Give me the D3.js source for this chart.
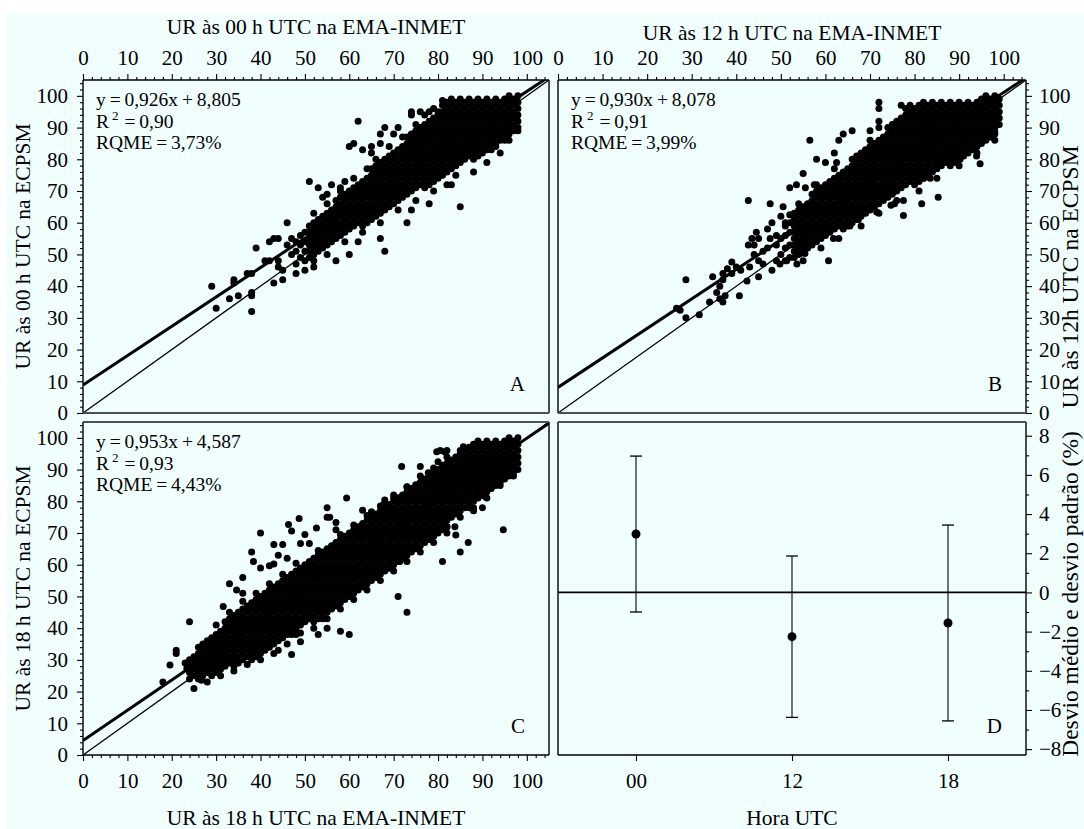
<!DOCTYPE html>
<html>
<head>
<meta charset="utf-8">
<script src="https://cdn.jsdelivr.net/npm/d3@7"></script>
<style>
  html, body { margin: 0; padding: 0; background: #ffffff; }
  svg { display: block; }
</style>
</head>
<body>
<svg id="chart" width="1084" height="829"></svg>
<script>
// ---------------------------------------------------------------
// Data
// ---------------------------------------------------------------
const valueTicks = [0, 10, 20, 30, 40, 50, 60, 70, 80, 90, 100];
const hourLabels = ["00", "12", "18"];
const deviationTicks = [-8, -6, -4, -2, 0, 2, 4, 6, 8];

// mean deviation (%) and its standard deviation for each hour
const meanDeviation = [2.98, -2.26, -1.56];
const sdDeviation = [3.98, 4.12, 5.0];

// linear fits (ECPSM = slope * EMA + intercept)
const fitSlope = [0.926, 0.930, 0.953];
const fitIntercept = [8.805, 8.078, 4.587];
const fitText = ["y = 0,926x + 8,805", "y = 0,930x + 8,078", "y = 0,953x + 4,587"];
const r2Text = ["0,90", "0,91", "0,93"];
const rqmeText = ["3,73%", "3,99%", "4,43%"];

// 00 h UTC: columns of observations [EMA, [ECPSM values]]
const denseA = [
  [48,[47,51,54]],[49,[49,53,56]],[50,[48,51,54,57]],
  [51,[49,51,53,55,57,59]],[52,[50,52,54,56,58,60]],[53,[51,53,55,57,59,61]],
  [54,[52,54,56,58,60,62]],[55,[53,55,57,59,61,63]],[56,[54,56,58,60,62,64]],
  [57,[55,57,59,61,63,65,67]],[58,[56,58,60,62,64,66,68]],[59,[57,59,61,63,65,67,69]],
  [60,[58,60,62,64,66,68,70]],[61,[59,61,63,65,67,69,71]],[62,[60,62,64,66,68,70,72]],
  [63,[59,61,63,65,67,69,71,73]],[64,[60,62,64,66,68,70,72,74]],
  [65,[61,63,65,67,69,71,73,75,77]],[66,[62,64,66,68,70,72,74,76,78]],
  [67,[63,65,67,69,71,73,75,77,79]],[68,[64,66,68,70,72,74,76,78,80]],
  [69,[65,67,69,71,73,75,77,79,81]],[70,[66,68,70,72,74,76,78,80,82]],
  [71,[67,69,71,73,75,77,79,81,83]],[72,[68,70,72,74,76,78,80,82,84]],
  [73,[69,71,73,75,77,79,81,83,85,87]],[74,[70,72,74,76,78,80,82,84,86,88]],
  [75,[71,73,75,77,79,81,83,85,87,89]],[76,[72,74,76,78,80,82,84,86,88,90]],
  [77,[71,73,75,77,79,81,83,85,87,89,91]],[78,[72,74,76,78,80,82,84,86,88,90,92]],
  [79,[73,75,77,79,81,83,85,87,89,91,93]],[80,[74,76,78,80,82,84,86,88,90,92,94]],
  [81,[75,77,79,81,83,85,87,89,91,93,95,97]],[82,[76,78,80,82,84,86,88,90,92,94,96,98]],
  [83,[77,79,81,83,85,87,89,91,93,95,97,99]],[84,[78,80,82,84,86,88,90,92,94,96,98]],
  [85,[79,81,83,85,87,89,91,93,95,97,99]],[86,[80,82,84,86,88,90,92,94,96,98]],
  [87,[81,83,85,87,89,91,93,95,97,99]],[88,[82,84,86,88,90,92,94,96,98]],
  [89,[81,83,85,87,89,91,93,95,97,99]],[90,[82,84,86,88,90,92,94,96,98]],
  [91,[83,85,87,89,91,93,95,97,99]],[92,[84,86,88,90,92,94,96,98]],
  [93,[85,87,89,91,93,95,97,99]],[94,[86,88,90,92,94,96,98]],
  [95,[87,89,91,93,95,97,99]],[96,[88,90,92,94,96,98,100]],
  [97,[89,91,93,95,97,99]],[98,[90,92,94,96,98,100]]
];
const sparseA = [
  [62,92],[60,84],[61,85],[63,83],[65,84],[65,82],[67,88],[67,85],[68,90],[71,90],[74,94],
  [74,95],[76,95],[78,95],[80,95],[82,97],[51,73],[53,71],[54,68],[55,69],[56,72],[58,70],
  [59,73],[46,60],[39,52],[42,54],[43,55],[44,55],[41,48],[42,48],[44,48],[45,45],[45,42],
  [43,41],[37,44],[38,44],[34,42],[34,41],[35,37],[33,36],[38,38],[38,37],[38,32],[29,40],
  [30,33],[52,48],[57,48],[60,50],[62,54],[67,55],[68,51],[73,60],[74,64],
  [78,66],[82,72],[83,72],[85,65],[88,76],[91,79],[94,82],[93,84],[98,89],[95,86],[47,50],
  [48,44],[50,45],[44,46],[47,55],[46,53],
  [52,63],[55,66],[58,71],[61,74],[64,77],[66,80],[69,84],[72,87],[75,91],[77,94],[79,96],
  [81,98.5],[70,88],[52,46],[55,50],[59,54],[63,57],[67,60],[71,64],[75,67],[79,70],
  [84,75],[88,80],[92,83],[96,86]
];

// 12 h UTC
const denseB = [
  [49,[48,53]],[50,[50,55]],[51,[48,52,56,59]],
  [52,[49,53,57,60]],[53,[49,51,53,55,57,59,61,63]],[54,[50,52,54,56,58,60,62,64]],
  [55,[51,53,55,57,59,61,63,65]],[56,[52,54,56,58,60,62,64,66]],
  [57,[53,55,57,59,61,63,65,67,69]],[58,[54,56,58,60,62,64,66,68,70]],
  [59,[55,57,59,61,63,65,67,69,71]],[60,[56,58,60,62,64,66,68,70,72]],
  [61,[57,59,61,63,65,67,69,71,73]],[62,[58,60,62,64,66,68,70,72,74]],
  [63,[59,61,63,65,67,69,71,73,75]],[64,[58,60,62,64,66,68,70,72,74,76]],
  [65,[59,61,63,65,67,69,71,73,75,77]],[66,[60,62,64,66,68,70,72,74,76,78]],
  [67,[61,63,65,67,69,71,73,75,77,79,81]],[68,[62,64,66,68,70,72,74,76,78,80,82]],
  [69,[63,65,67,69,71,73,75,77,79,81,83]],[70,[64,66,68,70,72,74,76,78,80,82,84]],
  [71,[65,67,69,71,73,75,77,79,81,83,85]],[72,[66,68,70,72,74,76,78,80,82,84,86]],
  [73,[67,69,71,73,75,77,79,81,83,85,87]],[74,[68,70,72,74,76,78,80,82,84,86,88]],
  [75,[69,71,73,75,77,79,81,83,85,87,89,91]],[76,[70,72,74,76,78,80,82,84,86,88,90,92]],
  [77,[71,73,75,77,79,81,83,85,87,89,91,93]],[78,[72,74,76,78,80,82,84,86,88,90,92,94]],
  [79,[73,75,77,79,81,83,85,87,89,91,93,95]],[80,[72,74,76,78,80,82,84,86,88,90,92,94,96]],
  [81,[73,75,77,79,81,83,85,87,89,91,93,95,97]],[82,[74,76,78,80,82,84,86,88,90,92,94,96,98]],
  [83,[75,77,79,81,83,85,87,89,91,93,95,97]],[84,[76,78,80,82,84,86,88,90,92,94,96,98]],
  [85,[77,79,81,83,85,87,89,91,93,95,97]],[86,[78,80,82,84,86,88,90,92,94,96,98]],
  [87,[79,81,83,85,87,89,91,93,95,97]],[88,[78,80,82,84,86,88,90,92,94,96,98]],
  [89,[79,81,83,85,87,89,91,93,95,97]],[90,[80,82,84,86,88,90,92,94,96,98]],
  [91,[81,83,85,87,89,91,93,95,97]],[92,[82,84,86,88,90,92,94,96,98]],
  [93,[83,85,87,89,91,93,95,97]],[94,[84,86,88,90,92,94,96,98]],
  [95,[85,87,89,91,93,95,97,99]],[96,[86,88,90,92,94,96,98,100]],
  [97,[87,89,91,93,95,97,99]],[98,[88,90,92,94,96,98,100]],[99,[91,93,95,97,99]]
];
const sparseB = [
  [72,98],[72,96],[72,92],[72,90],[77,97],[79,97],[66,89],[70,89],[64,88],[63,86],[62,82],
  [56.5,86],[58,80],[60,79],[62.5,79],[55,75.5],[52,71],[53.5,72],[55.5,71],[57.5,72],
  [42.7,67],[47.6,66],[50.5,65],[50,62],[51,60],[44.5,57],[43.5,55],[42.7,53],[47.6,55],
  [49,56],[47,52],[40,46],[39,44],[41,45],[43,46],[45,43],[42.4,41.6],[37,44],[37,42],
  [34.7,43],[38,45.5],[39,47.6],[36.3,40],[35.6,38],[37.5,37],[34,35],[37,35],[36.3,36],
  [40.7,37],[28.7,42],[26.6,33],[27.4,32.4],[28.7,30],[31.7,31],[55.8,54.5],[54.3,50.3],
  [55.4,50.3],[53.6,47],[49.8,47],[51.3,48],[60.7,48],[61.8,55],[65.5,59],[67.4,61],
  [71.5,63.4],[74.7,65.5],[75.5,66],[77.5,67],[81.6,66],[77.5,62.3],[85.3,68],[82,74],
  [83.5,74],[85,79],[85.7,79],[88,79],[90.2,80],[93.9,81],[94.7,78.6],[92.1,88],[94.3,88],
  [93.6,83],[98,88.6],
  [44,50],[45,48],[46,51],[46,47],[48,45],[44,53],[45,55],[47,58],[48,60],
  [52,62.5],[54,66],[58,72],[62,77],[66,80],[70,86],[74,90],[78,96],
  [55,48],[59,52],[63,55],[68,59],[72,63],[76,67],[81,70],[85,74],[90,78],[94,82],[98,86]
];

// 18 h UTC
const denseC = [
  [24,[24,26,28,30]],[25,[25,27,29,31]],[26,[24,26,28,30,32,34]],[27,[25,27,29,31,33,35]],
  [28,[26,28,30,32,34,36]],[29,[25,27,29,31,33,35,37]],[30,[26,28,30,32,34,36,38]],
  [31,[27,29,31,33,35,37,39]],[32,[28,30,32,34,36,38,40,42]],[33,[29,31,33,35,37,39,41,43]],
  [34,[28,30,32,34,36,38,40,42,44]],[35,[29,31,33,35,37,39,41,43,45]],
  [36,[30,32,34,36,38,40,42,44,46]],[37,[31,33,35,37,39,41,43,45,47]],
  [38,[30,32,34,36,38,40,42,44,46,48]],[39,[31,33,35,37,39,41,43,45,47,49]],
  [40,[32,34,36,38,40,42,44,46,48,50]],[41,[33,35,37,39,41,43,45,47,49,51]],
  [42,[34,36,38,40,42,44,46,48,50,52]],[43,[35,37,39,41,43,45,47,49,51,53]],
  [44,[36,38,40,42,44,46,48,50,52,54]],[45,[37,39,41,43,45,47,49,51,53,55]],
  [46,[38,40,42,44,46,48,50,52,54,56]],[47,[39,41,43,45,47,49,51,53,55,57]],
  [48,[40,42,44,46,48,50,52,54,56,58]],[49,[41,43,45,47,49,51,53,55,57,59]],
  [50,[42,44,46,48,50,52,54,56,58,60]],[51,[43,45,47,49,51,53,55,57,59,61]],
  [52,[42,44,46,48,50,52,54,56,58,60,62]],[53,[43,45,47,49,51,53,55,57,59,61,63]],
  [54,[44,46,48,50,52,54,56,58,60,62,64]],[55,[45,47,49,51,53,55,57,59,61,63,65]],
  [56,[46,48,50,52,54,56,58,60,62,64,66]],[57,[47,49,51,53,55,57,59,61,63,65,67]],
  [58,[48,50,52,54,56,58,60,62,64,66,68]],[59,[49,51,53,55,57,59,61,63,65,67,69]],
  [60,[50,52,54,56,58,60,62,64,66,68,70]],[61,[51,53,55,57,59,61,63,65,67,69,71]],
  [62,[52,54,56,58,60,62,64,66,68,70,72]],[63,[53,55,57,59,61,63,65,67,69,71,73]],
  [64,[54,56,58,60,62,64,66,68,70,72,74]],[65,[55,57,59,61,63,65,67,69,71,73,75]],
  [66,[56,58,60,62,64,66,68,70,72,74,76]],[67,[57,59,61,63,65,67,69,71,73,75,77]],
  [68,[58,60,62,64,66,68,70,72,74,76,78]],[69,[59,61,63,65,67,69,71,73,75,77,79]],
  [70,[60,62,64,66,68,70,72,74,76,78,80]],[71,[61,63,65,67,69,71,73,75,77,79,81]],
  [72,[62,64,66,68,70,72,74,76,78,80,82]],[73,[63,65,67,69,71,73,75,77,79,81,83]],
  [74,[64,66,68,70,72,74,76,78,80,82,84]],[75,[65,67,69,71,73,75,77,79,81,83,85]],
  [76,[66,68,70,72,74,76,78,80,82,84,86]],[77,[67,69,71,73,75,77,79,81,83,85,87]],
  [78,[68,70,72,74,76,78,80,82,84,86,88]],[79,[69,71,73,75,77,79,81,83,85,87,89]],
  [80,[70,72,74,76,78,80,82,84,86,88,90]],[81,[71,73,75,77,79,81,83,85,87,89,91]],
  [82,[72,74,76,78,80,82,84,86,88,90,92]],[83,[75,77,79,81,83,85,87,89,91,93]],
  [84,[76,78,80,82,84,86,88,90,92,94]],[85,[77,79,81,83,85,87,89,91,93,95]],
  [86,[78,80,82,84,86,88,90,92,94,96]],[87,[79,81,83,85,87,89,91,93,95,97]],
  [88,[80,82,84,86,88,90,92,94,96,98]],[89,[81,83,85,87,89,91,93,95,97,99]],
  [90,[82,84,86,88,90,92,94,96,98]],[91,[83,85,87,89,91,93,95,97,99]],
  [92,[84,86,88,90,92,94,96,98]],[93,[85,87,89,91,93,95,97,99]],
  [94,[86,88,90,92,94,96,98]],[95,[87,89,91,93,95,97,99]],
  [96,[88,90,92,94,96,98,100]],[97,[89,91,93,95,97,99]],[98,[90,92,94,96,98,100]]
];
const sparseC = [
  [24,42],[18,23],[19.6,28.4],[21,33],[21,32],[23,29],[23.4,27.3],[25,21],[26.7,23.6],
  [31.6,46.8],[33,54],[34.6,52],[36,51],[36,56],[38,64],[40,70],[38.4,61],[40,59],[43,66.4],
  [45,66.4],[46.3,72.7],[47,70.6],[48.7,74.6],[50,69.5],[49,66.7],[51,66.7],[44,63],[46,62],
  [42,59.7],[43,60.2],[52.6,71.6],[53,63],[55,78],[55,75],[55.6,75],[57,73.3],[57,71],
  [59.4,81],[59.4,68.8],[63,77.2],[65,76.7],[65.4,75.7],[67.7,79],[68,80.4],[70,81],[71,81],
  [72,81],[71.8,91],[76,91],[77.8,89],[73,84.6],[75,85.2],[79.7,95.6],[80.5,96],[81.5,95.6],
  [82,96],[80,92.5],[81,91.4],[85.7,97.2],[78,68],[82,72],[83.8,72],[84,69.4],[85,64],
  [86.8,67],[81,61],[86,81],[87,78],[88,77],[90.6,81.5],[94.7,71],[95.4,90.4],[96.2,93.6],
  [71,50],[73,45],[54,45],[54,43],[55,40],[51,43],[53,38],[58,39],[60,38],[47,38],[48,38],
  [49,35.7],[44,33],[47,31.7],[38,31],[38.8,32.6],[31,28.3],[32.4,29.4],[31.6,31.5],
  [69,59],[71.4,61],[70.3,62.5],[66,57],[64,57],[89,84],[90,78],[90,82],
  [30,41],[33,45],[36,48.5],[39,51],[42,54],[45,57],[48,60.5],[53,64.5],[58,69.5],
  [61,72.5],[64,75.5],[67,78.5],[70,82],[73,84.5],[76,88],[79,90.5],[82,94],[85,96],
  [28,23],[31,25],[34,26.5],[37,28.5],[40,30],[43,32],[46,35],[49,38.5],[52,40],[55,43],
  [58,46],[61,49],[64,52],[67,55],[70,58],[73,61],[76,64],[79,67],[82,70],[85,75],[88,78],
  [91,81],[94,85],[97,88]
];

// ---------------------------------------------------------------
// Layout
// ---------------------------------------------------------------
const FONT = '"Liberation Serif", "Times New Roman", Times, serif';
const FS = 21;           // tick labels
const FS_TITLE = 21.5;   // axis titles
const FS_SIDE = 23.5;    // right-hand axis titles
const FS_STAT = 19.5;    // statistics block
const DOT_R = 3.5;
const col = [{x0: 83, x1: 549}, {x0: 558, x1: 1026}];
const row = [{y0: 80, y1: 413}, {y0: 422, y1: 755}];
const valueDomain = [0, 105];
const minorValueTicks = d3.range(2, 105, 2).filter(v => v % 10 !== 0);

const svg = d3.select("#chart");
svg.append("rect")
  .attr("x", 7).attr("y", 14).attr("width", 1077).attr("height", 815)
  .attr("fill", "#f0fefe");

function drawAxis(gen, scale, majors, minors, fmt, pad, tx, ty) {
  const gm = svg.append("g").attr("transform", `translate(${tx},${ty})`)
    .call(gen(scale).tickValues(minors).tickSize(3).tickFormat(""));
  const gM = svg.append("g").attr("transform", `translate(${tx},${ty})`)
    .call(gen(scale).tickValues(majors).tickSize(6).tickPadding(pad).tickFormat(fmt));
  [gm, gM].forEach(g => {
    g.select(".domain").remove();
    g.attr("font-family", FONT).attr("font-size", FS);
    g.selectAll("line").attr("stroke", "#000").attr("stroke-width", 1.1);
    g.selectAll("text").attr("fill", "#000");
  });
  return gM;
}

function frame(box, grey) {
  // side edges black; the edge shared with the neighbouring row drawn heavier grey
  const g = svg.append("g").attr("fill", "none");
  const edges = [
    {x1: box.x0, y1: box.y0, x2: box.x0, y2: box.y1, s: "#000", w: 1.4},
    {x1: box.x1, y1: box.y0, x2: box.x1, y2: box.y1, s: "#000", w: 1.4},
    {x1: box.x0, y1: box.y0, x2: box.x1, y2: box.y0, s: grey === "top" ? "#505050" : "#000", w: grey === "top" ? 2.2 : 1.4},
    {x1: box.x0, y1: box.y1, x2: box.x1, y2: box.y1, s: grey === "bottom" ? "#505050" : "#000", w: grey === "bottom" ? 2.2 : 1.4}
  ];
  g.selectAll("line").data(edges).join("line")
    .attr("x1", d => d.x1).attr("y1", d => d.y1).attr("x2", d => d.x2).attr("y2", d => d.y2)
    .attr("stroke", d => d.s).attr("stroke-width", d => d.w);
}

function text(x, y, str, opts = {}) {
  const t = svg.append("text")
    .attr("x", x).attr("y", y)
    .attr("font-family", FONT).attr("font-size", opts.size || FS)
    .attr("text-anchor", opts.anchor || "start")
    .attr("fill", "#000")
    .text(str);
  if (opts.wordSpacing !== undefined) t.attr("word-spacing", opts.wordSpacing);
  if (opts.rotate) t.attr("transform", `rotate(${opts.rotate},${x},${y})`);
  return t;
}

function scatterPanel(i, box, dense, sparse, letter, grey) {
  const x = d3.scaleLinear().domain(valueDomain).range([box.x0, box.x1]);
  const y = d3.scaleLinear().domain(valueDomain).range([box.y1, box.y0]);
  const clipId = "clip" + letter;
  svg.append("clipPath").attr("id", clipId).append("rect")
    .attr("x", box.x0).attr("y", box.y0)
    .attr("width", box.x1 - box.x0).attr("height", box.y1 - box.y0);

  const pts = [];
  dense.forEach(([xv, ys]) => ys.forEach(yv => pts.push([xv, yv])));
  sparse.forEach(d => pts.push(d));

  const g = svg.append("g").attr("clip-path", `url(#${clipId})`);
  g.selectAll("circle").data(pts).join("circle")
    .attr("cx", d => x(d[0])).attr("cy", d => y(d[1])).attr("r", DOT_R)
    .attr("fill", "#000");

  // 1:1 line
  g.append("line")
    .attr("x1", x(0)).attr("y1", y(0)).attr("x2", x(105)).attr("y2", y(105))
    .attr("stroke", "#000").attr("stroke-width", 1.3);
  // fitted line
  g.append("line")
    .attr("x1", x(0)).attr("y1", y(fitIntercept[i]))
    .attr("x2", x(105)).attr("y2", y(fitSlope[i] * 105 + fitIntercept[i]))
    .attr("stroke", "#000").attr("stroke-width", 3);

  frame(box, grey);

  // statistics block
  const tx = box.x0 + 13, ty = box.y0 + 26;
  text(tx, ty, fitText[i], {size: FS_STAT, wordSpacing: -1});
  const r2 = text(tx, ty + 22, "R", {size: FS_STAT, wordSpacing: -1});
  r2.append("tspan").attr("dx", 3).attr("dy", -8).attr("font-size", 13).text("2");
  r2.append("tspan").attr("dx", 2).attr("dy", 8).text(" = " + r2Text[i]);
  text(tx, ty + 43, "RQME = " + rqmeText[i], {size: FS_STAT, wordSpacing: -1});

  text(box.x1 - 24, box.y1 - 22, letter, {anchor: "end"});
  return {x, y};
}

// ---------------------------------------------------------------
// Panels A, B, C
// ---------------------------------------------------------------
const boxA = {x0: col[0].x0, x1: col[0].x1, y0: row[0].y0, y1: row[0].y1};
const boxB = {x0: col[1].x0, x1: col[1].x1, y0: row[0].y0, y1: row[0].y1};
const boxC = {x0: col[0].x0, x1: col[0].x1, y0: row[1].y0, y1: row[1].y1};
const boxD = {x0: col[1].x0, x1: col[1].x1, y0: row[1].y0, y1: row[1].y1};

const sA = scatterPanel(0, boxA, denseA, sparseA, "A", "bottom");
const sB = scatterPanel(1, boxB, denseB, sparseB, "B", "bottom");
const sC = scatterPanel(2, boxC, denseC, sparseC, "C", "top");

const fmtInt = d3.format("d");
drawAxis(d3.axisTop, sA.x, valueTicks, minorValueTicks, fmtInt, 9, 0, boxA.y0);
drawAxis(d3.axisLeft, sA.y, valueTicks, minorValueTicks, fmtInt, 9, boxA.x0, 0);
drawAxis(d3.axisTop, sB.x, valueTicks, minorValueTicks, fmtInt, 9, 0, boxB.y0);
drawAxis(d3.axisRight, sB.y, valueTicks, minorValueTicks, fmtInt, 7, boxB.x1, 0);
drawAxis(d3.axisLeft, sC.y, valueTicks, minorValueTicks, fmtInt, 9, boxC.x0, 0);
drawAxis(d3.axisBottom, sC.x, valueTicks, minorValueTicks, fmtInt, 12, 0, boxC.y1);

// ---------------------------------------------------------------
// Panel D: mean deviation and standard deviation by hour
// ---------------------------------------------------------------
const xD = d3.scalePoint().domain(hourLabels).range([boxD.x0, boxD.x1]).padding(0.5);
const yD = d3.scaleLinear().domain([-8.3, 8.7]).range([boxD.y1, boxD.y0]);

svg.append("line")
  .attr("x1", boxD.x0).attr("x2", boxD.x1).attr("y1", yD(0)).attr("y2", yD(0))
  .attr("stroke", "#000").attr("stroke-width", 1.6);

const devData = hourLabels.map((h, k) => ({h, m: meanDeviation[k], s: sdDeviation[k]}));
const eb = svg.append("g").selectAll("g").data(devData).join("g");
eb.append("line")
  .attr("x1", d => xD(d.h)).attr("x2", d => xD(d.h))
  .attr("y1", d => yD(d.m - d.s)).attr("y2", d => yD(d.m + d.s))
  .attr("stroke", "#000").attr("stroke-width", 1.1);
eb.append("line")
  .attr("x1", d => xD(d.h) - 6).attr("x2", d => xD(d.h) + 6)
  .attr("y1", d => yD(d.m + d.s)).attr("y2", d => yD(d.m + d.s))
  .attr("stroke", "#000").attr("stroke-width", 1.3);
eb.append("line")
  .attr("x1", d => xD(d.h) - 6).attr("x2", d => xD(d.h) + 6)
  .attr("y1", d => yD(d.m - d.s)).attr("y2", d => yD(d.m - d.s))
  .attr("stroke", "#000").attr("stroke-width", 1.3);
eb.append("circle")
  .attr("cx", d => xD(d.h)).attr("cy", d => yD(d.m)).attr("r", 4.5)
  .attr("fill", "#000");

frame(boxD, "top");
text(boxD.x1 - 24, boxD.y1 - 22, "D", {anchor: "end"});

const minorDev = d3.range(-7, 8, 2);
drawAxis(d3.axisRight, yD, deviationTicks, minorDev, fmtInt, 7, boxD.x1, 0);
drawAxis(d3.axisBottom, xD, hourLabels, [], d => d, 12, 0, boxD.y1);

// ---------------------------------------------------------------
// Axis titles
// ---------------------------------------------------------------
text((boxA.x0 + boxA.x1) / 2, 34, "UR às 00 h UTC na EMA-INMET", {anchor: "middle", size: FS_TITLE});
text((boxB.x0 + boxB.x1) / 2, 40, "UR às 12 h UTC na EMA-INMET", {anchor: "middle", size: FS_TITLE});
text((boxC.x0 + boxC.x1) / 2, 825, "UR às 18 h UTC na EMA-INMET", {anchor: "middle", size: FS_TITLE});
text((boxD.x0 + boxD.x1) / 2, 825, "Hora UTC", {anchor: "middle", size: FS_TITLE});
text(30, (boxA.y0 + boxA.y1) / 2, "UR às 00 h UTC na ECPSM", {anchor: "middle", rotate: -90, size: FS_TITLE});
text(30, (boxC.y0 + boxC.y1) / 2, "UR às 18 h UTC na ECPSM", {anchor: "middle", rotate: -90, size: FS_TITLE});
text(1078, 277, "UR às 12h UTC na ECPSM", {anchor: "middle", rotate: -90, size: FS_SIDE});
text(1078, 594, "Desvio médio e desvio padrão (%)", {anchor: "middle", rotate: -90, size: FS_SIDE});
</script>
</body>
</html>
